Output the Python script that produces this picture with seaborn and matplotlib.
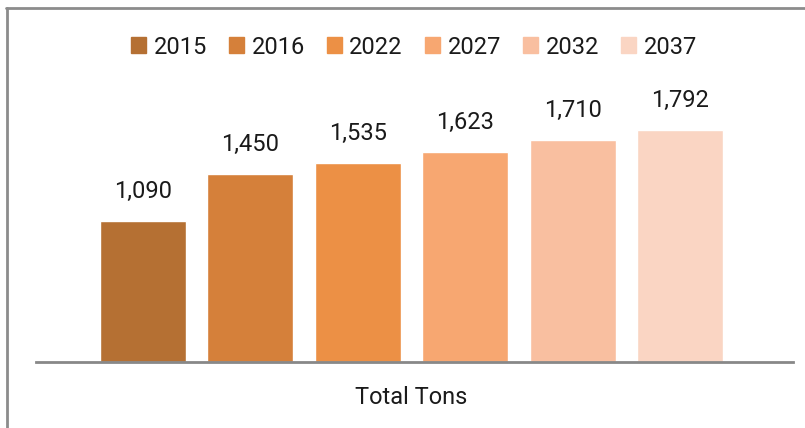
import matplotlib
matplotlib.use("Agg")
import matplotlib.pyplot as plt
from matplotlib.lines import Line2D
import seaborn as sns
import pandas as pd

# Data
years = ["2015", "2016", "2022", "2027", "2032", "2037"]
tons = [1090, 1450, 1535, 1623, 1710, 1792]
category = "Total Tons"
colors = ["#B57033", "#D5803A", "#EC9045", "#F7A771", "#F9BFA0", "#FAD5C3"]

df = pd.DataFrame({"cat": [category] * len(years), "year": years, "tons": tons})

sns.set_theme(style="white")
plt.rcParams["font.family"] = ["Roboto", "DejaVu Sans"]

W, H = 805, 428
fig = plt.figure(figsize=(W / 100, H / 100), dpi=100)
ax = fig.add_axes([36 / W, 1 - 362 / H, (793 - 36) / W, (362 - 38) / H])

sns.barplot(data=df, x="cat", y="tons", hue="year", hue_order=years,
            palette=colors, width=0.852, gap=0.2, saturation=1,
            legend=False, ax=ax)

ax.set_ylim(0, 2500)
ax.set_xlim(-0.496, 0.504)
ax.set_xlabel("")
ax.set_ylabel("")
ax.set_yticks([])
ax.tick_params(axis="x", length=0, labelsize=17, colors="#1a1a1a", pad=17)
for s in ["top", "right", "left"]:
    ax.spines[s].set_visible(False)
ax.spines["bottom"].set_color("#888888")
ax.spines["bottom"].set_linewidth(2.0)

for cont in ax.containers:
    ax.bar_label(cont, labels=[f"{v:,.0f}" for v in cont.datavalues],
                 padding=13, fontsize=17, color="#1a1a1a")

handles = [plt.Rectangle((0, 0), 1, 1, color=c) for c in colors]
fig.legend(handles, years, loc="center", bbox_to_anchor=(414 / W, 1 - 47 / H),
           ncol=len(years), frameon=False, fontsize=17, handlelength=0.64,
           handleheight=0.64, handletextpad=0.3, columnspacing=0.95,
           labelcolor="#1a1a1a")

# Chart-area border (left and top edges)
bc = "#8c8c8c"
fig.add_artist(Line2D([6.5 / W, 6.5 / W], [0, 1 - 8 / H], transform=fig.transFigure,
                      color=bc, linewidth=2.0))
fig.add_artist(Line2D([5.5 / W, 1], [1 - 8 / H, 1 - 8 / H], transform=fig.transFigure,
                      color=bc, linewidth=2.0))

fig.savefig("out.png", dpi=100)
